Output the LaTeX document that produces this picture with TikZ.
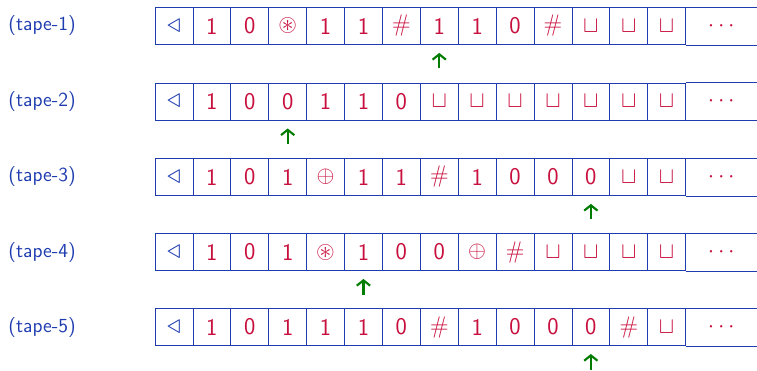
\documentclass[tikz,border=0pt]{standalone}
\usepackage{amssymb}
\usepackage{fontspec}
\usetikzlibrary{arrows.meta}
\definecolor{tapeblue}{RGB}{30,60,175}
\definecolor{tapered}{RGB}{200,16,62}
\definecolor{headgreen}{RGB}{0,125,0}
\newcommand{\tapeend}{{\color{tapeblue}\fontsize{21}{21}\selectfont$\triangleleft$}}
\begin{document}
\begin{tikzpicture}[
  cell/.style={draw=tapeblue, line width=0.6pt, minimum width=1cm, minimum height=0.98cm, inner sep=0pt, text=tapered, font=\sffamily\fontsize{18}{18}\selectfont},
  dots/.style={cell, draw=none},
  tapelabel/.style={anchor=west, text=tapeblue, font=\sffamily\fontsize{15}{15}\selectfont},
  headarrow/.style={-{Straight Barb[length=4pt,width=10pt]}, draw=headgreen, line width=1.6pt, shorten >=0.21cm}
]
  \useasboundingbox (0,0) rectangle (19.974,-9.763);
  \coordinate (edge) at (19.974,0);

  \node[tapelabel] (l1) at (0.1,-0.686) {(tape-1)};
  \node[tapelabel] (l2) at (0.1,-2.678) {(tape-2)};
  \node[tapelabel] (l3) at (0.1,-4.670) {(tape-3)};
  \node[tapelabel] (l4) at (0.1,-6.650) {(tape-4)};
  \node[tapelabel] (l5) at (0.1,-8.630) {(tape-5)};

  \foreach \s [count=\i from 0] in {\tapeend,1,0,$\circledast$,1,1,$\#$,1,1,0,$\#$,$\sqcup$,$\sqcup$,$\sqcup$}
    \node[cell] (t1-\i) at (4.59+\i,-0.686) {\s};
  \foreach \s [count=\i from 0] in {\tapeend,1,0,0,1,1,0,$\sqcup$,$\sqcup$,$\sqcup$,$\sqcup$,$\sqcup$,$\sqcup$,$\sqcup$}
    \node[cell] (t2-\i) at (4.59+\i,-2.678) {\s};
  \foreach \s [count=\i from 0] in {\tapeend,1,0,1,$\oplus$,1,1,$\#$,1,0,0,0,$\sqcup$,$\sqcup$}
    \node[cell] (t3-\i) at (4.59+\i,-4.670) {\s};
  \foreach \s [count=\i from 0] in {\tapeend,1,0,1,$\circledast$,1,0,0,$\oplus$,$\#$,$\sqcup$,$\sqcup$,$\sqcup$,$\sqcup$}
    \node[cell] (t4-\i) at (4.59+\i,-6.650) {\s};
  \foreach \s [count=\i from 0] in {\tapeend,1,0,1,1,1,0,$\#$,1,0,0,0,$\#$,$\sqcup$}
    \node[cell] (t5-\i) at (4.59+\i,-8.630) {\s};

  \foreach \t/\y in {1/-0.686,2/-2.678,3/-4.670,4/-6.650,5/-8.630} {
    \node[dots] (t\t-14) at (19.03,\y) {$\cdots$};
    \draw[tapeblue, line width=0.6pt] (t\t-13.north east) -- (t\t-13.north east -| edge);
    \draw[tapeblue, line width=0.6pt] (t\t-13.south east) -- (t\t-13.south east -| edge);
  }

  \coordinate (h1) at ([yshift=-0.62cm]t1-7.south);
  \coordinate (h2) at ([yshift=-0.62cm]t2-3.south);
  \coordinate (h3) at ([yshift=-0.62cm]t3-11.south);
  \coordinate (h4) at ([yshift=-0.62cm]t4-5.south);
  \coordinate (h5) at ([yshift=-0.62cm]t5-11.south);

  \draw[headarrow] (h1) -- (t1-7);
  \draw[headarrow] (h2) -- (t2-3);
  \draw[headarrow] (h3) -- (t3-11);
  \draw[headarrow] (h4) -- (t4-5);
  \draw[headarrow] (h5) -- (t5-11);
\end{tikzpicture}
\end{document}
